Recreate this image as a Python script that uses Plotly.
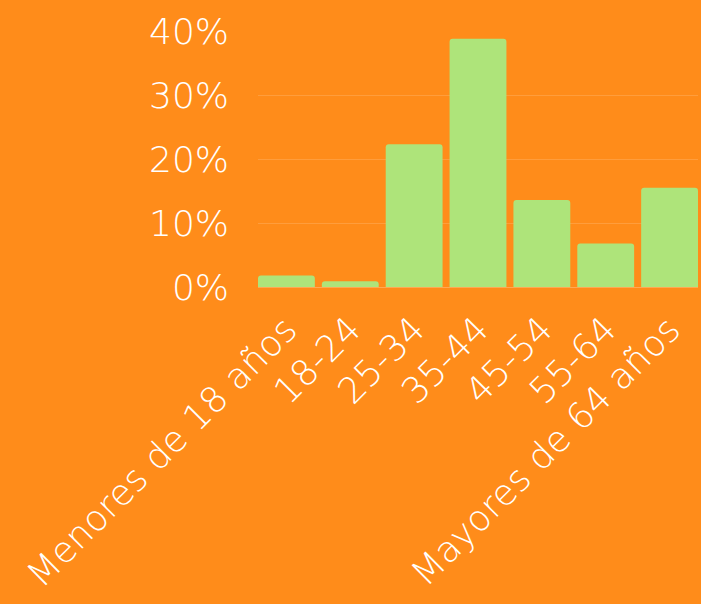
import plotly.graph_objects as go

# Age distribution (share of total, %)
categories = ["Menores de 18 años", "18-24", "25-34", "35-44", "45-54", "55-64", "Mayores de 64 años"]
shares = [1.8, 0.9, 22.3, 38.8, 13.6, 6.8, 15.5]
y_ticks = [0, 10, 20, 30, 40]
y_tick_labels = ["0%", "10%", "20%", "30%", "40%"]

BG = "#FF8C1A"
BAR = "#AEE47A"
FONT = "DejaVu Sans"

fig = go.Figure(
    go.Bar(
        x=categories,
        y=shares,
        marker=dict(color=BAR, cornerradius=3, line=dict(width=0)),
        hoverinfo="skip",
    )
)

fig.update_layout(
    width=701,
    height=604,
    paper_bgcolor=BG,
    plot_bgcolor=BG,
    margin=dict(l=258, r=3, t=31, b=317),
    bargap=0.11,
    showlegend=False,
    font=dict(family=FONT, color="white", size=36, weight=200),
)

fig.update_xaxes(
    type="category",
    range=[-0.445, 6.445],
    tickangle=-45,
    tickfont=dict(size=36, color="white", family=FONT, weight=200),
    showgrid=False,
    showline=True,
    linecolor="rgba(255,255,255,0.25)",
    linewidth=1,
    ticks="",
    ticklabelstandoff=6,
    automargin=False,
)

fig.update_yaxes(
    range=[0, 40],
    tickvals=y_ticks,
    ticktext=y_tick_labels,
    tickfont=dict(size=36, color="white", family=FONT, weight=200),
    showgrid=True,
    gridcolor="rgba(255,255,255,0.15)",
    gridwidth=1,
    zeroline=False,
    showline=False,
    ticks="",
    ticklabelstandoff=28,
    automargin=False,
)

fig.write_html("out.html")
